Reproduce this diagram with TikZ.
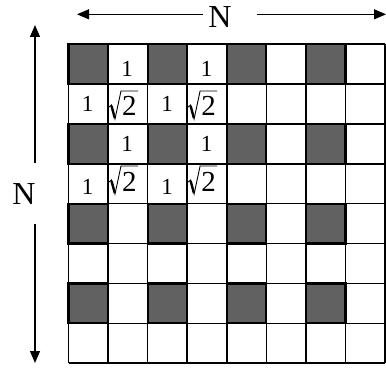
\documentclass[tikz,border=0pt]{standalone}
\usepackage{fontspec}
\setmainfont{Liberation Serif}
\usetikzlibrary{arrows.meta}
\begin{document}
\begin{tikzpicture}[x=1pt,y=-1pt,
  cellnum/.style={font=\fontsize{23}{23}\selectfont, inner sep=0pt, anchor=base},
  rootnum/.style={font=\fontsize{29}{29}\selectfont, inner sep=0pt, anchor=base west},
  radthin/.style={line width=0.9pt, line join=miter},
  radthick/.style={line width=2.4pt},
  bigN/.style={font=\fontsize{32}{32}\selectfont, inner sep=0pt},
  arr/.style={line width=1.2pt, -{Triangle[length=12pt,width=10pt]}},
  gridline/.style={line width=1.6pt},
  shadecell/.style={fill=black!62, draw=black, line width=2.2pt}]
\useasboundingbox (0,0) rectangle (386,369);
\def\cw{39.56}
\def\ch{39.9}
% shaded cells
\foreach \r in {0,2,4,6}{
  \foreach \c in {0,2,4,6}{
    \filldraw[shadecell] ({68.5+\c*\cw},{44+\r*\ch}) rectangle ++(\cw,\ch);
  }
}
% grid lines
\foreach \i in {0,...,8}{
  \draw[gridline] ({68.5+\i*\cw},44) -- ({68.5+\i*\cw},363.2);
  \draw[gridline] (68.5,{44+\i*\ch}) -- (385,{44+\i*\ch});
}
% ones
\node[cellnum] (t01) at (127,77) {1};
\node[cellnum] (t03) at (206.5,77) {1};
\node[cellnum] (t10) at (87.5,111) {1};
\node[cellnum] (t12) at (167,111) {1};
\node[cellnum] (t21) at (127,151) {1};
\node[cellnum] (t23) at (206.5,151) {1};
\node[cellnum] (t30) at (87.5,194) {1};
\node[cellnum] (t32) at (167,194) {1};
% square roots of 2
\foreach \nm/\xo/\yb in {t11/108.5/116, t13/187.6/116, t31/108.5/191, t33/187.6/191}{
  \node[rootnum] (\nm) at ({\xo+13.5},\yb) {2};
  \draw[radthin] ({\xo+0.5},{\yb-9}) -- ({\xo+3},{\yb-11}) -- ({\xo+6.5},{\yb+3})
     -- ({\xo+12.5},{\yb-25}) -- ({\xo+29.5},{\yb-25});
  \draw[radthick] ({\xo+3},{\yb-10}) -- ({\xo+6.3},{\yb+2});
}
% N labels
\node[bigN] (ntop) at (220,17.5) {N};
\node[bigN] (nleft) at (24,194) {N};
% arrows
\coordinate (hl) at (203,14.3);
\coordinate (hlend) at (77,14.3);
\coordinate (hr) at (257,14.3);
\coordinate (hrend) at (386,14.3);
\coordinate (vt) at (35,163);
\coordinate (vtend) at (35,25);
\coordinate (vb) at (35,224);
\coordinate (vbend) at (35,363);
\draw[arr] (hl) -- (hlend);
\draw[arr] (hr) -- (hrend);
\draw[arr] (vt) -- (vtend);
\draw[arr] (vb) -- (vbend);
\end{tikzpicture}
\end{document}
